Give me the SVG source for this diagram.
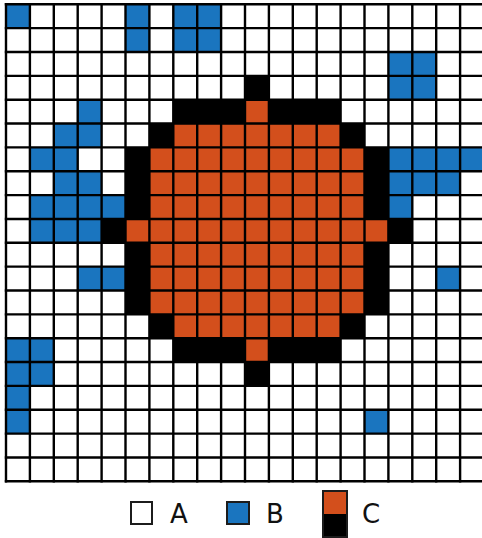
<svg xmlns="http://www.w3.org/2000/svg" width="482" height="538" viewBox="0 0 482 538">
<style>
.a{fill:#ffffff}
.b{fill:#1a75bf}
.c{fill:#d34f1c}
.k{fill:#000000}
.grid{fill:none;stroke:#000000;stroke-width:2.4;stroke-linecap:square}
.sw{stroke:#1c1c1c;stroke-width:2}
.lbl{font-family:"DejaVu Sans","Liberation Sans",sans-serif;font-size:26px;fill:#111}
</style>
<rect width="482" height="538" fill="#ffffff"/>
<g id="grid-background">
<rect class="a" x="6" y="4.3" width="478" height="477"/>
</g>
<g id="cells-b">
<rect class="b" x="6" y="4.3" width="23.9" height="23.85"/>
<rect class="b" x="125.5" y="4.3" width="23.9" height="47.7"/>
<rect class="b" x="173.3" y="4.3" width="47.8" height="47.7"/>
<rect class="b" x="388.4" y="52" width="47.8" height="47.7"/>
<rect class="b" x="77.7" y="99.7" width="23.9" height="23.85"/>
<rect class="b" x="53.8" y="123.55" width="47.8" height="23.85"/>
<rect class="b" x="29.9" y="147.4" width="47.8" height="23.85"/>
<rect class="b" x="388.4" y="147.4" width="95.6" height="23.85"/>
<rect class="b" x="53.8" y="171.25" width="47.8" height="23.85"/>
<rect class="b" x="388.4" y="171.25" width="71.7" height="23.85"/>
<rect class="b" x="29.9" y="195.1" width="95.6" height="23.85"/>
<rect class="b" x="388.4" y="195.1" width="23.9" height="23.85"/>
<rect class="b" x="29.9" y="218.95" width="71.7" height="23.85"/>
<rect class="b" x="77.7" y="266.65" width="47.8" height="23.85"/>
<rect class="b" x="436.2" y="266.65" width="23.9" height="23.85"/>
<rect class="b" x="6" y="338.2" width="47.8" height="47.7"/>
<rect class="b" x="6" y="385.9" width="23.9" height="47.7"/>
<rect class="b" x="364.5" y="409.75" width="23.9" height="23.85"/>
</g>
<g id="region-c-border">
<rect class="k" x="245" y="75.85" width="23.9" height="23.85"/>
<rect class="k" x="173.3" y="99.7" width="167.3" height="23.85"/>
<rect class="k" x="149.4" y="123.55" width="215.1" height="23.85"/>
<rect class="k" x="125.5" y="147.4" width="262.9" height="166.95"/>
<rect class="k" x="101.6" y="218.95" width="310.7" height="23.85"/>
<rect class="k" x="149.4" y="314.35" width="215.1" height="23.85"/>
<rect class="k" x="173.3" y="338.2" width="167.3" height="23.85"/>
<rect class="k" x="245" y="362.05" width="23.9" height="23.85"/>
</g>
<g id="region-c-fill">
<rect class="c" x="245" y="99.7" width="23.9" height="23.85"/>
<rect class="c" x="173.3" y="123.55" width="167.3" height="23.85"/>
<rect class="c" x="149.4" y="147.4" width="215.1" height="166.95"/>
<rect class="c" x="125.5" y="218.95" width="262.9" height="23.85"/>
<rect class="c" x="173.3" y="314.35" width="167.3" height="23.85"/>
<rect class="c" x="245" y="338.2" width="23.9" height="23.85"/>
</g>
<g id="gridlines">
<path class="grid" d="M6 4.3V481.3M29.9 4.3V481.3M53.8 4.3V481.3M77.7 4.3V481.3M101.6 4.3V481.3M125.5 4.3V481.3M149.4 4.3V481.3M173.3 4.3V481.3M197.2 4.3V481.3M221.1 4.3V481.3M245 4.3V481.3M268.9 4.3V481.3M292.8 4.3V481.3M316.7 4.3V481.3M340.6 4.3V481.3M364.5 4.3V481.3M388.4 4.3V481.3M412.3 4.3V481.3M436.2 4.3V481.3M460.1 4.3V481.3M484 4.3V481.3"/>
<path class="grid" d="M6 4.3H484M6 28.15H484M6 52H484M6 75.85H484M6 99.7H484M6 123.55H484M6 147.4H484M6 171.25H484M6 195.1H484M6 218.95H484M6 242.8H484M6 266.65H484M6 290.5H484M6 314.35H484M6 338.2H484M6 362.05H484M6 385.9H484M6 409.75H484M6 433.6H484M6 457.45H484M6 481.3H484"/>
</g>
<g id="legend">
<g id="legend-a">
<rect class="a sw" x="131" y="502" width="21" height="22"/>
<text class="lbl" x="170" y="523">A</text>
</g>
<g id="legend-b">
<rect class="b sw" x="227" y="502" width="22" height="22"/>
<text class="lbl" x="266" y="523">B</text>
</g>
<g id="legend-c">
<rect class="c" x="323" y="491" width="24" height="23"/>
<rect class="k" x="323" y="514" width="24" height="23"/>
<rect class="sw" fill="none" x="323" y="491" width="24" height="46"/>
<text class="lbl" x="362" y="523">C</text>
</g>
</g>
</svg>
